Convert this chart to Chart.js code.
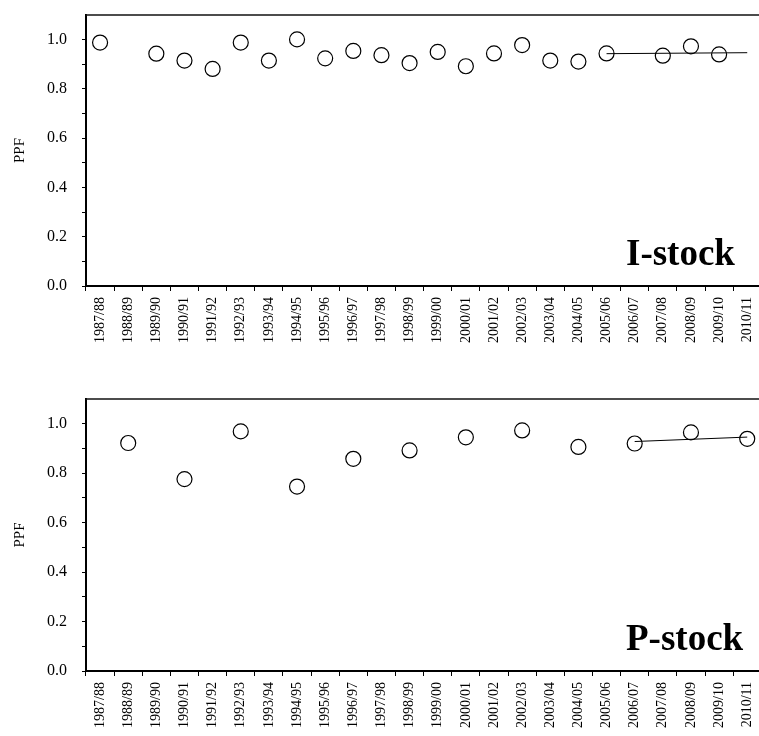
<!DOCTYPE html>
<html>
<head>
<meta charset="utf-8">
<script src="https://cdn.jsdelivr.net/npm/chart.js@4.4.0/dist/chart.umd.min.js"></script>
<style>
  html, body { margin: 0; padding: 0; background: #fff; overflow: hidden; width: 759px; height: 736px; }
  .panel { position: absolute; left: 0; width: 770px; height: 368px; }
</style>
</head>
<body>
<div class="panel" style="top:0"><canvas id="chartI" width="770" height="368"></canvas></div>
<div class="panel" style="top:368px"><canvas id="chartP" width="770" height="368"></canvas></div>
<script>
var seasons = ['1987/88','1988/89','1989/90','1990/91','1991/92','1992/93','1993/94','1994/95',
  '1995/96','1996/97','1997/98','1998/99','1999/00','2000/01','2001/02','2002/03','2003/04',
  '2004/05','2005/06','2006/07','2007/08','2008/09','2009/10','2010/11'];

var iStock = [0.988, null, 0.943, 0.915, 0.881, 0.988, 0.915, 1.001, 0.924, 0.954, 0.937, 0.905,
  0.950, 0.892, 0.944, 0.978, 0.915, 0.911, 0.944, null, 0.935, 0.973, 0.940, null];
var iTrend = [null, null, null, null, null, null, null, null, null, null, null, null,
  null, null, null, null, null, null, 0.943, null, null, null, null, 0.947];

var pStock = [null, 0.922, null, 0.776, null, 0.969, null, 0.746, null, 0.858, null, 0.892,
  null, 0.945, null, 0.973, null, 0.906, null, 0.920, null, 0.965, null, 0.939];
var pTrend = [null, null, null, null, null, null, null, null, null, null, null, null,
  null, null, null, null, null, null, null, 0.928, null, null, null, 0.946];

var serif = "'Liberation Serif', 'Times New Roman', serif";

// top frame line + panel name
var panelDeco = {
  id: 'panelDeco',
  afterDraw: function(chart, args, opts) {
    var ctx = chart.ctx, a = chart.chartArea;
    ctx.save();
    ctx.strokeStyle = '#111';
    ctx.lineWidth = 1.5;
    ctx.beginPath();
    ctx.moveTo(a.left, a.top);
    ctx.lineTo(a.right, a.top);
    ctx.stroke();
    ctx.fillStyle = '#000';
    ctx.font = 'bold 37px ' + serif;
    ctx.textAlign = 'left';
    ctx.textBaseline = 'alphabetic';
    ctx.fillText(opts.name, a.left + 540, a.bottom - 21);
    ctx.restore();
  }
};

function makeChart(id, points, trend, name, padTop, xHeight) {
  return new Chart(document.getElementById(id), {
    type: 'line',
    data: {
      labels: seasons,
      datasets: [
        {
          data: trend,
          borderColor: '#000',
          borderWidth: 1,
          pointRadius: 0,
          spanGaps: true,
          fill: false
        },
        {
          data: points,
          showLine: false,
          pointStyle: 'circle',
          pointRadius: 7.5,
          pointBorderWidth: 1.2,
          pointBorderColor: '#000',
          pointBackgroundColor: 'rgba(255,255,255,0)'
        }
      ]
    },
    options: {
      responsive: false,
      animation: false,
      layout: { padding: { top: padTop, right: 2.6, left: 0, bottom: 0 } },
      plugins: {
        legend: { display: false },
        tooltip: { enabled: false },
        panelDeco: { name: name }
      },
      scales: {
        x: {
          type: 'category',
          offset: true,
          grid: { offset: true, drawOnChartArea: false, drawTicks: true, tickLength: 5, color: '#000', lineWidth: 1 },
          border: { display: true, color: '#000', width: 2 },
          ticks: {
            autoSkip: false, maxRotation: 90, minRotation: 90, padding: 6, labelOffset: 0,
            color: '#000', font: { family: serif, size: 14 }
          },
          afterFit: function(s) { s.height = xHeight; s.paddingLeft = 0; s.paddingRight = 0; }
        },
        y: {
          min: 0,
          max: 1.1,
          grid: { drawOnChartArea: false, drawTicks: true, tickLength: 4, color: '#000', lineWidth: 1 },
          border: { display: true, color: '#000', width: 2 },
          ticks: {
            stepSize: 0.1,
            padding: 15,
            color: '#000',
            font: { family: serif, size: 16 },
            callback: function(v) {
              var k = Math.round(v * 10);
              if (k === 11) return null;
              return k % 2 === 0 ? (k / 10).toFixed(1) : '';
            }
          },
          title: { display: true, text: 'PPF', color: '#000', font: { family: serif, size: 15 }, padding: { top: 11, bottom: 0 } },
          afterFit: function(s) { s.width = 86; s.paddingTop = 0; s.paddingBottom = 0; }
        }
      }
    },
    plugins: [panelDeco]
  });
}

makeChart('chartI', iStock, iTrend, 'I-stock', 15, 82);
makeChart('chartP', pStock, pTrend, 'P-stock', 31, 65);
</script>
</body>
</html>
